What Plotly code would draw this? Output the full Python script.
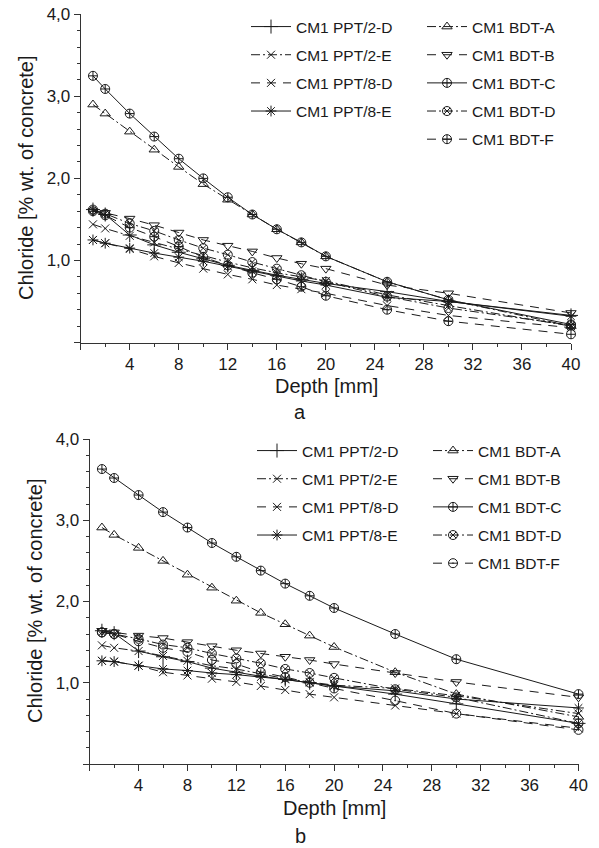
import plotly.graph_objects as go

# ---------------- data ----------------
depth = [1, 2, 4, 6, 8, 10, 12, 14, 16, 18, 20, 25, 30, 40]

series_names = ["CM1 PPT/2-D", "CM1 PPT/2-E", "CM1 PPT/8-D", "CM1 PPT/8-E",
                "CM1 BDT-A", "CM1 BDT-B", "CM1 BDT-C", "CM1 BDT-D", "CM1 BDT-F"]

# panel a
a_ppt2d = [1.62, 1.56, 1.31, 1.19, 1.10, 1.02, 0.94, 0.88, 0.82, 0.77, 0.72, 0.62, 0.50, 0.33]
a_ppt2e = [1.44, 1.39, 1.30, 1.22, 1.14, 1.06, 0.98, 0.91, 0.85, 0.80, 0.75, 0.58, 0.45, 0.20]
a_ppt8d = [1.25, 1.21, 1.14, 1.05, 0.97, 0.90, 0.83, 0.77, 0.70, 0.65, 0.60, 0.45, 0.33, 0.18]
a_ppt8e = [1.25, 1.21, 1.15, 1.09, 1.04, 0.99, 0.93, 0.87, 0.81, 0.75, 0.70, 0.55, 0.50, 0.32]
a_bdta = [2.90, 2.79, 2.57, 2.35, 2.14, 1.93, 1.74, 1.56, 1.38, 1.22, 1.05, 0.74, 0.52, 0.20]
a_bdtb = [1.60, 1.58, 1.51, 1.43, 1.34, 1.25, 1.18, 1.11, 1.03, 0.96, 0.90, 0.70, 0.60, 0.36]
a_bdtc = [3.25, 3.09, 2.79, 2.51, 2.24, 2.00, 1.77, 1.56, 1.38, 1.22, 1.05, 0.74, 0.52, 0.22]
a_bdtd = [1.62, 1.57, 1.45, 1.36, 1.25, 1.15, 1.07, 0.98, 0.90, 0.82, 0.74, 0.56, 0.42, 0.21]
a_bdtf = [1.60, 1.55, 1.40, 1.29, 1.17, 1.04, 0.94, 0.85, 0.77, 0.68, 0.57, 0.40, 0.26, 0.10]

# panel b
b_ppt2d = [1.64, 1.61, 1.39, 1.32, 1.26, 1.18, 1.13, 1.08, 1.04, 1.00, 0.96, 0.86, 0.74, 0.50]
b_ppt2e = [1.46, 1.43, 1.39, 1.33, 1.27, 1.21, 1.17, 1.11, 1.05, 1.01, 0.97, 0.93, 0.84, 0.62]
b_ppt8d = [1.27, 1.26, 1.21, 1.13, 1.09, 1.05, 1.01, 0.96, 0.91, 0.86, 0.82, 0.72, 0.62, 0.44]
b_ppt8e = [1.27, 1.26, 1.21, 1.17, 1.15, 1.12, 1.10, 1.07, 1.04, 1.00, 0.96, 0.90, 0.80, 0.69]
b_bdta = [2.91, 2.82, 2.66, 2.50, 2.33, 2.17, 2.01, 1.86, 1.72, 1.58, 1.44, 1.13, 0.86, 0.58]
b_bdtb = [1.64, 1.62, 1.58, 1.55, 1.50, 1.45, 1.40, 1.36, 1.32, 1.28, 1.23, 1.12, 1.01, 0.82]
b_bdtc = [3.63, 3.52, 3.31, 3.10, 2.91, 2.72, 2.55, 2.38, 2.22, 2.07, 1.92, 1.60, 1.29, 0.86]
b_bdtd = [1.62, 1.60, 1.54, 1.47, 1.43, 1.36, 1.30, 1.24, 1.17, 1.12, 1.06, 0.92, 0.82, 0.50]
b_bdtf = [1.62, 1.60, 1.51, 1.43, 1.38, 1.28, 1.23, 1.13, 1.07, 1.00, 0.93, 0.78, 0.62, 0.42]

panel_a = [a_ppt2d, a_ppt2e, a_ppt8d, a_ppt8e, a_bdta, a_bdtb, a_bdtc, a_bdtd, a_bdtf]
panel_b = [b_ppt2d, b_ppt2e, b_ppt8d, b_ppt8e, b_bdta, b_bdtb, b_bdtc, b_bdtd, b_bdtf]

x_tick_vals = [0, 4, 8, 12, 16, 20, 24, 28, 32, 36, 40]
x_tick_text = ["", "4", "8", "12", "16", "20", "24", "28", "32", "36", "40"]
y_tick_vals = [0, 1, 2, 3, 4]
y_tick_text = ["", "1,0", "2,0", "3,0", "4,0"]

x_title = "Depth [mm]"
y_title = "Chloride [% wt. of concrete]"
panel_labels = ["a", "b"]

# ---------------- styles ----------------
W, H = 599, 848
FONT = "Arial, Liberation Sans, sans-serif"
INK = "#1a1a1a"
DASH = "9px,7px"
DASHDOT = "9px,3px,2px,3px"

style_a = [
    ("solid", "cross-thin-open", 10),
    (DASHDOT, "x-thin-open", 8),
    (DASH, "x-thin-open", 8),
    ("solid", "asterisk-open", 9),
    (DASHDOT, "triangle-up-open", 9),
    (DASH, "triangle-down-open", 9),
    ("solid", "circle-cross-open", 9),
    (DASHDOT, "circle-x-open", 9),
    (DASH, "circle-cross-open", 9),
]
style_b = list(style_a)
style_b[8] = (DASH, "circle-open-dot", 9)

fig = go.Figure()


def add_panel(values, styles, xa, ya, legends):
    for i, (name, ys) in enumerate(zip(series_names, values)):
        dash, sym, size = styles[i]
        lg = legends[0] if i < 4 else legends[1]
        fig.add_trace(go.Scatter(
            x=depth, y=ys, name=name, mode="lines+markers",
            xaxis=xa, yaxis=ya, legend=lg, legendgroup=lg + name,
            cliponaxis=False,
            line=dict(color=INK, width=1, dash=dash),
            marker=dict(symbol=sym, size=size, color=INK,
                        line=dict(color=INK, width=1)),
        ))


add_panel(panel_a, style_a, "x", "y", ["legend", "legend2"])
add_panel(panel_b, style_b, "x2", "y2", ["legend3", "legend4"])


def px_x(p):  # page pixel -> paper fraction
    return p / W


def px_y(p):
    return 1 - p / H


def xaxis_cfg(dom, anchor):
    return dict(domain=dom, anchor=anchor, range=[0, 40], autorange=False,
                showline=True, linecolor="#333", linewidth=1, showgrid=False,
                zeroline=False, ticks="outside", ticklen=6, tickwidth=1,
                tickcolor="#333", tickvals=x_tick_vals, ticktext=x_tick_text,
                tickfont=dict(family=FONT, size=17, color=INK),
                minor=dict(dtick=2, tick0=0, ticks="outside", ticklen=3,
                           tickcolor="#333", showgrid=False),
                automargin=False)


def yaxis_cfg(dom, anchor):
    return dict(domain=dom, anchor=anchor, range=[0, 4], autorange=False,
                showline=True, linecolor="#333", linewidth=1, showgrid=False,
                zeroline=False, ticks="outside", ticklen=6, tickwidth=1,
                tickcolor="#333", tickvals=y_tick_vals, ticktext=y_tick_text,
                tickfont=dict(family=FONT, size=17, color=INK),
                minor=dict(dtick=0.2, tick0=0, ticks="outside", ticklen=3,
                           tickcolor="#333", showgrid=False),
                automargin=False)


def legend_cfg(xp, yp):
    return dict(x=px_x(xp), y=px_y(yp), xanchor="left", yanchor="top",
                bgcolor="rgba(0,0,0,0)", borderwidth=0,
                traceorder="grouped", tracegroupgap=5,
                font=dict(family=FONT, size=15.5, color=INK),
                itemwidth=40)


fig.update_layout(
    width=W, height=H,
    margin=dict(l=0, r=0, t=0, b=0, autoexpand=False),
    paper_bgcolor="white", plot_bgcolor="white",
    showlegend=True,
    xaxis=xaxis_cfg([px_x(80.7), px_x(571)], "y"),
    yaxis=yaxis_cfg([px_y(342.5), px_y(14.3)], "x"),
    xaxis2=xaxis_cfg([px_x(89.7), px_x(578.5)], "y2"),
    yaxis2=yaxis_cfg([px_y(764), px_y(439)], "x2"),
    legend=legend_cfg(246, 10),
    legend2=legend_cfg(422, 10),
    legend3=legend_cfg(252, 434),
    legend4=legend_cfg(428, 434),
)

annos = [
    dict(text=x_title, x=px_x(326), y=px_y(386)),
    dict(text=x_title, x=px_x(334), y=px_y(808)),
    dict(text=y_title, x=px_x(26), y=px_y(178), textangle=-90),
    dict(text=y_title, x=px_x(35), y=px_y(601), textangle=-90),
    dict(text=panel_labels[0], x=px_x(300), y=px_y(412)),
    dict(text=panel_labels[1], x=px_x(300), y=px_y(836)),
]
for an in annos:
    fig.add_annotation(xref="paper", yref="paper", showarrow=False,
                       xanchor="center", yanchor="middle",
                       font=dict(family=FONT, size=20, color=INK), **an)

# remove the browser's default 8px body margin so the figure fills the window
fig.write_html("out.html",
               config={"displayModeBar": False},
               post_script="document.body.style.margin='0';"
                           "document.body.style.overflow='hidden';")
